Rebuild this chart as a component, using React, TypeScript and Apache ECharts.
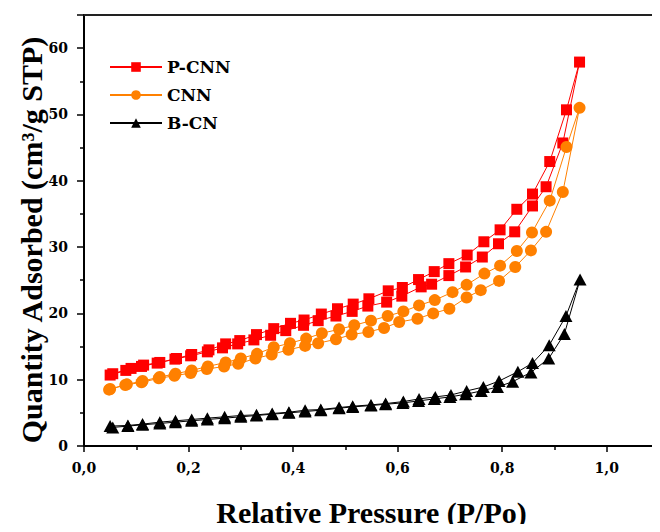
import React, { useEffect, useRef } from "react";
import * as echarts from "echarts";

const seriesNames = ["P-CNN", "CNN", "B-CN"];
const seriesColors = ["#ff0000", "#ff8000", "#000000"];

// [P/Po, quantity adsorbed]
const pcnnAdsorption: number[][] = [
  [0.05, 10.7], [0.08, 11.4], [0.11, 12.0], [0.14, 12.5], [0.174, 13.1], [0.204, 13.6],
  [0.236, 14.2], [0.265, 14.8], [0.294, 15.4], [0.325, 16.0], [0.357, 16.7], [0.386, 17.4],
  [0.42, 18.2], [0.448, 18.9], [0.482, 19.6], [0.513, 20.3], [0.543, 21.1], [0.579, 21.7],
  [0.608, 22.6], [0.645, 24.0], [0.665, 24.4], [0.698, 25.7], [0.73, 27.0], [0.762, 28.5],
  [0.793, 30.5], [0.824, 32.3], [0.858, 36.2], [0.884, 39.1], [0.916, 45.7], [0.948, 57.9],
];
const pcnnDesorption: number[][] = [
  [0.948, 57.9], [0.923, 50.7], [0.891, 42.9], [0.858, 38.0], [0.828, 35.7], [0.796, 32.6],
  [0.765, 30.8], [0.733, 28.8], [0.698, 27.5], [0.67, 26.3], [0.64, 25.1], [0.609, 23.9],
  [0.582, 23.4], [0.545, 22.2], [0.515, 21.4], [0.485, 20.7], [0.454, 19.9], [0.421, 19.0],
  [0.395, 18.5], [0.363, 17.7], [0.33, 16.8], [0.298, 15.9], [0.271, 15.4], [0.239, 14.5],
  [0.206, 13.8], [0.177, 13.2], [0.145, 12.6], [0.114, 12.2], [0.09, 11.7], [0.055, 10.9],
];
const cnnAdsorption: number[][] = [
  [0.048, 8.5], [0.079, 9.2], [0.11, 9.6], [0.143, 10.2], [0.173, 10.6], [0.204, 11.0],
  [0.235, 11.6], [0.268, 12.0], [0.295, 12.4], [0.328, 13.2], [0.359, 13.8], [0.391, 14.5],
  [0.423, 15.1], [0.448, 15.5], [0.482, 16.1], [0.512, 16.8], [0.544, 17.2], [0.574, 17.8],
  [0.603, 18.7], [0.638, 19.2], [0.668, 20.0], [0.699, 20.7], [0.732, 22.4], [0.759, 23.5],
  [0.794, 24.9], [0.825, 27.0], [0.855, 29.5], [0.884, 32.3], [0.916, 38.3], [0.948, 51.0],
];
const cnnDesorption: number[][] = [
  [0.948, 51.0], [0.923, 45.1], [0.891, 37.0], [0.857, 32.2], [0.828, 29.4], [0.796, 27.2],
  [0.766, 26.0], [0.732, 24.3], [0.705, 23.2], [0.671, 22.0], [0.641, 21.2], [0.611, 20.3],
  [0.581, 19.6], [0.549, 18.9], [0.517, 18.2], [0.488, 17.6], [0.455, 17.0], [0.425, 16.2],
  [0.394, 15.5], [0.363, 14.9], [0.331, 13.9], [0.3, 13.2], [0.271, 12.6], [0.237, 12.0],
  [0.206, 11.4], [0.175, 10.9], [0.145, 10.4], [0.112, 9.8], [0.082, 9.3], [0.05, 8.6],
];
const bcnAdsorption: number[][] = [
  [0.055, 2.8], [0.084, 3.0], [0.112, 3.2], [0.145, 3.4], [0.175, 3.6], [0.206, 3.8],
  [0.236, 4.0], [0.269, 4.2], [0.3, 4.4], [0.33, 4.6], [0.36, 4.8], [0.392, 5.0],
  [0.423, 5.2], [0.453, 5.4], [0.488, 5.7], [0.514, 5.9], [0.549, 6.1], [0.577, 6.3],
  [0.61, 6.5], [0.64, 6.8], [0.67, 7.1], [0.7, 7.4], [0.73, 7.8], [0.76, 8.3],
  [0.791, 8.9], [0.82, 9.7], [0.855, 11.1], [0.889, 13.2], [0.919, 16.9], [0.949, 25.1],
];
const bcnDesorption: number[][] = [
  [0.949, 25.1], [0.922, 19.6], [0.89, 15.2], [0.858, 12.5], [0.83, 11.2], [0.794, 9.8],
  [0.764, 8.9], [0.732, 8.3], [0.702, 7.7], [0.672, 7.4], [0.641, 7.1], [0.611, 6.7],
  [0.577, 6.4], [0.549, 6.2], [0.514, 6.0], [0.488, 5.8], [0.453, 5.5], [0.423, 5.4],
  [0.392, 5.1], [0.36, 4.9], [0.33, 4.7], [0.3, 4.6], [0.269, 4.4], [0.236, 4.2],
  [0.206, 4.0], [0.175, 3.8], [0.145, 3.6], [0.112, 3.3], [0.084, 3.1], [0.05, 3.0],
];

const xTitle = "Relative Pressure (P/Po)";
const yTitle = "Quantity Adsorbed (cm³/g STP)";

const SERIF = "'Liberation Serif', 'DejaVu Serif', serif";
const WIDE_SERIF = "'DejaVu Serif', 'Liberation Serif', serif";

export default function App() {
  const ref = useRef<HTMLDivElement>(null);
  useEffect(() => {
    if (!ref.current) return;
    const chart = echarts.init(ref.current, null, { renderer: "svg" });
    const loops = [
      [pcnnAdsorption, pcnnDesorption],
      [cnnAdsorption, cnnDesorption],
      [bcnAdsorption, bcnDesorption],
    ];
    const symbols = ["rect", "circle", "triangle"];
    const sizes: any[] = [11, 12, [13, 12]];
    const series = loops.map((pair, i) => ({
      name: seriesNames[i],
      type: "line",
      data: [...pair[0], ...pair[1].slice(1)],
      symbol: symbols[i],
      symbolSize: sizes[i],
      showAllSymbol: true,
      color: seriesColors[i],
      itemStyle: { color: seriesColors[i] },
      lineStyle: { color: seriesColors[i], width: 1 },
      z: 2 + i,
    }));
    const axisLabelStyle = {
      color: "#000",
      fontFamily: WIDE_SERIF,
      fontWeight: "bold",
      fontSize: 14,
    };
    chart.setOption({
      animation: false,
      backgroundColor: "#fff",
      grid: {
        left: 84,
        right: 1,
        top: 15,
        bottom: 80,
        show: true,
        borderColor: "#444",
        borderWidth: 1,
      },
      legend: {
        orient: "vertical",
        left: 104,
        top: 53,
        itemWidth: 52,
        itemHeight: 12,
        itemGap: 10,
        data: seriesNames,
        textStyle: {
          color: "#000",
          fontFamily: WIDE_SERIF,
          fontWeight: "bold",
          fontSize: 17,
          lineHeight: 18,
        },
      },
      xAxis: [
        {
          type: "value",
          min: 0,
          max: 1.1,
          interval: 0.2,
          position: "bottom",
          name: xTitle,
          nameLocation: "middle",
          nameGap: 51,
          nameTextStyle: {
            color: "#000",
            fontFamily: SERIF,
            fontWeight: "bold",
            fontSize: 30,
          },
          axisLine: { show: true, lineStyle: { color: "#000", width: 2 } },
          axisTick: { show: true, length: 6, lineStyle: { color: "#000", width: 1.5 } },
          minorTick: { show: true, splitNumber: 2, length: 4, lineStyle: { color: "#000", width: 1.5 } },
          splitLine: { show: false },
          axisLabel: {
            ...axisLabelStyle,
            margin: 15,
            showMaxLabel: false,
            formatter: (v: number) => v.toFixed(1).replace(".", ","),
          },
        },
        {
          type: "value",
          min: 0,
          max: 1.1,
          position: "top",
          axisLine: { show: true, lineStyle: { color: "#222", width: 2 } },
          axisTick: { show: false },
          axisLabel: { show: false },
          splitLine: { show: false },
        },
      ],
      yAxis: {
        type: "value",
        min: 0,
        max: 65,
        interval: 10,
        axisLine: { show: true, lineStyle: { color: "#000", width: 2 } },
        axisTick: { show: true, length: 7, lineStyle: { color: "#000", width: 1.5 } },
        minorTick: { show: true, splitNumber: 2, length: 4, lineStyle: { color: "#000", width: 1.5 } },
        splitLine: { show: false },
        axisLabel: {
          ...axisLabelStyle,
          margin: 16,
          showMaxLabel: false,
        },
      },
      graphic: [
        {
          type: "text",
          x: 31,
          y: 240,
          rotation: Math.PI / 2,
          style: {
            text: yTitle,
            fill: "#000",
            font: `bold 30px ${SERIF}`,
            align: "center",
            verticalAlign: "middle",
          },
        },
      ],
      series,
    });
    return () => chart.dispose();
  }, []);
  return <div ref={ref} style={{ width: 660, height: 532, margin: -8 }} />;
}
